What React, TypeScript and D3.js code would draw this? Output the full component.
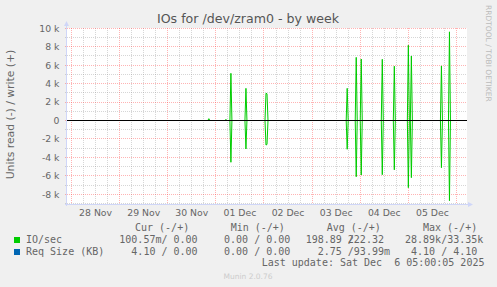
import React from 'react';
import * as d3 from 'd3';

const W = 497;
const H = 287;

const title = 'IOs for /dev/zram0 - by week';
const yLabel = 'Units read (-) / write (+)';
const watermark = 'RRDTOOL / TOBI OETIKER';
const footer = 'Munin 2.0.76';
const lastUpdate = 'Last update: Sat Dec  6 05:00:05 2025';

const timeStart = '2025-11-27T21:45:00Z';
const timeEnd = '2025-12-06T05:15:00Z';
const yMinK = -9.06;
const yMaxK = 10;
const yMajorK = [-8, -6, -4, -2, 0, 2, 4, 6, 8, 10];
const yMinorK = [-9, -7, -5, -3, -1, 1, 3, 5, 7, 9];

// 30-minute averages (thousands of IOs/sec)
const spikeTimes = [
  '2025-11-30T20:30:00Z',
  '2025-12-01T05:00:00Z',
  '2025-12-01T07:30:00Z',
  '2025-12-01T15:00:00Z',
  '2025-12-02T01:00:00Z',
  '2025-12-02T01:30:00Z',
  '2025-12-03T17:30:00Z',
  '2025-12-03T22:00:00Z',
  '2025-12-04T00:30:00Z',
  '2025-12-04T11:00:00Z',
  '2025-12-04T17:00:00Z',
  '2025-12-05T00:00:00Z',
  '2025-12-05T01:30:00Z',
  '2025-12-05T16:30:00Z',
  '2025-12-05T20:30:00Z',
];
const writeK = [0.2, 0.13, 5.12, 3.49, 2.95, 2.9, 3.49, 6.85, 6.67, 6.64, 5.89, 8.17, 7.0, 5.92, 9.62];
const readK = [0, 0, 4.53, 3.09, 2.66, 2.6, 3.12, 6.1, 5.91, 5.88, 5.35, 7.29, 6.2, 5.12, 8.7];

const legendNames = ['IO/sec', 'Req Size (KB)'];
const legendColors = ['#00cc00', '#0066b3'];
const colHeaders = ['Cur (-/+)', 'Min (-/+)', 'Avg (-/+)', 'Max (-/+)'];
const curRead = ['100.57m', '  4.10 '];
const curWrite = ['  0.00 ', '  0.00 '];
const minRead = ['  0.00 ', '  0.00 '];
const minWrite = ['  0.00 ', '  0.00 '];
const avgRead = ['198.89 ', '  2.75 '];
const avgWrite = ['222.32 ', ' 93.99m'];
const maxRead = [' 28.89k', '  4.10 '];
const maxWrite = [' 33.35k', '  4.10 '];

const PL = 67;
const PR = 467;
const PT = 28;
const PB = 204;

const sans = "'DejaVu Sans', sans-serif";
const mono = "'DejaVu Sans Mono', monospace";

export default function App() {
  const x = d3.scaleUtc().domain([new Date(timeStart), new Date(timeEnd)]).range([PL, PR]);
  const y = d3.scaleLinear().domain([yMinK, yMaxK]).range([PB, 28.34]);

  const dayTicks = d3.utcDay.range(new Date(timeStart), new Date(timeEnd));
  const hourTicks = d3.utcHour
    .every(6)!
    .range(new Date(timeStart), new Date(timeEnd))
    .filter((d) => d.getUTCHours() !== 0);
  const labelTimes = dayTicks.map((d) => d3.utcHour.offset(d, 12)).filter((d) => d < new Date(timeEnd));
  const fmtDay = d3.utcFormat('%d %b');

  const step = 30 * 60 * 1000;
  const pts = new Map<number, { w: number; r: number }>();
  spikeTimes.forEach((t, i) => pts.set(+new Date(t), { w: writeK[i], r: readK[i] }));
  spikeTimes.forEach((t) => {
    const tt = +new Date(t);
    [tt - step, tt + step].forEach((n) => {
      if (!pts.has(n)) pts.set(n, { w: 0, r: 0 });
    });
  });
  pts.set(+new Date(timeStart), { w: 0, r: 0 });
  pts.set(+new Date(timeEnd), { w: 0, r: 0 });
  const series = Array.from(pts.entries()).sort((a, b) => a[0] - b[0]);
  const lineW = d3
    .line<[number, { w: number; r: number }]>()
    .x((d) => x(new Date(d[0])))
    .y((d) => y(d[1].w));
  const lineR = d3
    .line<[number, { w: number; r: number }]>()
    .x((d) => x(new Date(d[0])))
    .y((d) => y(-d[1].r));

  const crisp = (v: number) => Math.floor(v) + 0.5;
  const fmtY = (k: number) => (k === 0 ? '0' : `${k} k`);

  const minorGrid = 'rgba(143,143,143,0.37)';
  const majorGrid = 'rgba(255,48,48,0.37)';
  const axisCol = '#cfd6f8';

  const readX = [119.3, 212, 305.7, 399];
  const headX = [135, 230.7, 326.7, 423];
  const CW = 6.02;
  const writeOff = 7 * CW;
  const rowY = [243, 255];
  const cols = [
    [curRead, curWrite],
    [minRead, minWrite],
    [avgRead, avgWrite],
    [maxRead, maxWrite],
  ];

  const cell = (rd: string, wr: string, x0: number, yy: number, key: string) => {
    const txt = { fontFamily: mono, fontSize: 10, fill: '#666666', style: { whiteSpace: 'pre' as const } };
    if (wr.startsWith(' ')) {
      return (
        <text key={key} x={x0} y={yy} {...txt}>
          {rd + '/' + wr.slice(1)}
        </text>
      );
    }
    return (
      <g key={key}>
        <text x={x0} y={yy} {...txt}>
          {rd + '/'}
        </text>
        <text x={x0 + writeOff} y={yy} {...txt}>
          {wr}
        </text>
      </g>
    );
  };

  return (
    <svg width={W} height={H} style={{ position: 'absolute', left: 0, top: 0, display: 'block' }}>
      <rect x={0} y={0} width={W} height={H} fill="#f0f0f0" />
      <rect x={PL} y={PT} width={PR - PL} height={PB - PT} fill="#ffffff" />

      {/* minor grid */}
      {hourTicks.map((d, i) => (
        <line key={'hx' + i} x1={crisp(x(d))} x2={crisp(x(d))} y1={PT} y2={PB + 2} stroke={minorGrid} strokeDasharray="1,1" />
      ))}
      {yMinorK.map((k, i) => (
        <line key={'my' + i} x1={PL - 2} x2={PR} y1={crisp(y(k))} y2={crisp(y(k))} stroke={minorGrid} strokeDasharray="1,1" />
      ))}
      {/* major grid */}
      {dayTicks.map((d, i) => (
        <line key={'dx' + i} x1={crisp(x(d))} x2={crisp(x(d))} y1={PT} y2={PB + 2} stroke={majorGrid} strokeDasharray="1,1" />
      ))}
      {yMajorK.map((k, i) => (
        <line key={'My' + i} x1={PL - 2} x2={PR} y1={crisp(y(k))} y2={crisp(y(k))} stroke={majorGrid} strokeDasharray="1,1" />
      ))}

      {/* axes */}
      <line x1={PL - 2} x2={PR + 1} y1={PB + 0.5} y2={PB + 0.5} stroke={axisCol} />
      <line x1={PL - 0.5} x2={PL - 0.5} y1={PT - 2} y2={PB + 2} stroke={axisCol} />
      <path d={`M${PL - 3},${PT - 2} L${PL + 2},${PT - 2} L${PL - 0.5},${PT - 7} Z`} fill={axisCol} />
      <path d={`M${PR + 1},${PB - 2} L${PR + 1},${PB + 3} L${PR + 6},${PB + 0.5} Z`} fill={axisCol} />

      {/* data */}
      <path d={lineW(series as any) || ''} fill="none" stroke="#00cc00" strokeWidth={1} />
      <path d={lineR(series as any) || ''} fill="none" stroke="#00cc00" strokeWidth={1} />
      <line x1={PL} x2={PR} y1={y(0)} y2={y(0)} stroke="#000000" strokeWidth={1} />

      {/* y tick labels */}
      {yMajorK.map((k, i) => (
        <text key={'yl' + i} x={59.5} y={y(k) + 3.4} textAnchor="end" fontFamily={sans} fontSize={9.3} fill="#666666">
          {fmtY(k)}
        </text>
      ))}
      {/* x tick labels */}
      {labelTimes.map((d, i) => (
        <text key={'xl' + i} x={x(d)} y={216} textAnchor="middle" fontFamily={sans} fontSize={9.3} fill="#666666">
          {fmtDay(d)}
        </text>
      ))}

      {/* title */}
      <text x={248} y={23} textAnchor="middle" fontFamily={sans} fontSize={12.6} fill="#555555">
        {title}
      </text>
      {/* y label */}
      <text transform={`translate(14,${114.5}) rotate(-90)`} textAnchor="middle" fontFamily={sans} fontSize={10.8} fill="#666666">
        {yLabel}
      </text>
      {/* watermark */}
      <text transform={`translate(486,5) rotate(90)`} fontFamily={sans} fontSize={7.5} fill="#bbbbbb">
        {watermark}
      </text>

      {/* legend */}
      {colHeaders.map((h, i) => (
        <text key={'h' + i} x={headX[i]} y={231} fontFamily={mono} fontSize={10} fill="#666666" style={{ whiteSpace: 'pre' }}>
          {h}
        </text>
      ))}
      {legendNames.map((n, r) => (
        <g key={'row' + r}>
          <rect x={14} y={rowY[r] - 6} width={6} height={6} fill={legendColors[r]} />
          <text x={26} y={rowY[r]} fontFamily={mono} fontSize={10} fill="#666666" style={{ whiteSpace: 'pre' }}>
            {n}
          </text>
          {cols.map((c, ci) => cell(c[0][r], c[1][r], readX[ci], rowY[r], 'c' + ci))}
        </g>
      ))}
      <text x={261.7} y={266} fontFamily={mono} fontSize={10} fill="#666666" style={{ whiteSpace: 'pre' }}>
        {lastUpdate}
      </text>
      <text x={248} y={278.5} textAnchor="middle" fontFamily={sans} fontSize={7.5} fill="#cccccc">
        {footer}
      </text>
    </svg>
  );
}
